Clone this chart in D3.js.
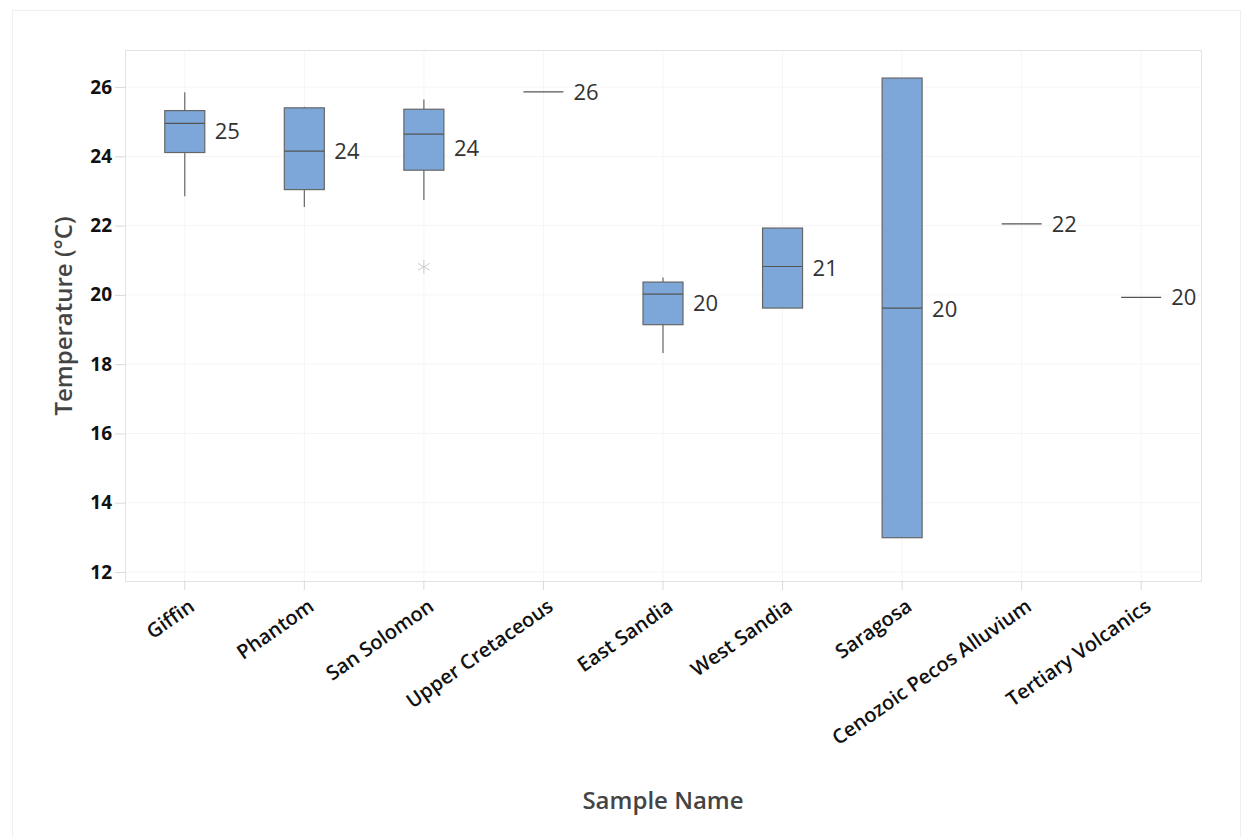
<!DOCTYPE html>
<html><head><meta charset="utf-8">
<script src="https://cdn.jsdelivr.net/npm/d3@7"></script>
<style>body{margin:0;background:#fff;} svg{display:block;}</style>
</head><body>
<svg id="chart" width="1252" height="837"></svg>
<script>
const categories = ["Giffin","Phantom","San Solomon","Upper Cretaceous","East Sandia","West Sandia","Saragosa","Cenozoic Pecos Alluvium","Tertiary Volcanics"];
const whiskerLow  = [22.85, 22.54, 22.74, 25.86, 18.32, 19.62, 12.99, 22.05, 19.93];
const q1          = [24.11, 23.04, 23.60, 25.86, 19.14, 19.62, 12.99, 22.05, 19.93];
const median      = [24.95, 24.15, 24.64, 25.86, 20.02, 20.82, 19.62, 22.05, 19.93];
const q3          = [25.32, 25.40, 25.36, 25.86, 20.37, 21.93, 26.26, 22.05, 19.93];
const whiskerHigh = [25.85, 25.43, 25.64, 25.86, 20.50, 21.93, 26.26, 22.05, 19.93];
const meanValues  = [24.73, 24.15, 24.25, 25.86, 19.75, 20.77, 19.60, 22.05, 19.93];
const outliers    = [{cat:"San Solomon", value:20.81}];
const yTicks = [12,14,16,18,20,22,24,26];

const svg = d3.select("#chart");
const m = {left:125, top:50, right:1201, bottom:581};

// outer frame
svg.append("rect").attr("x",12.5).attr("y",10.5).attr("width",1228).attr("height",840)
  .attr("fill","none").attr("stroke","#efefef");

const x = d3.scaleBand().domain(categories).range([m.left,m.right]).padding(0);
const y = d3.scaleLinear().domain([11.74,27.07]).range([m.bottom,m.top]);
const bw = 40;
const cx = c => x(c)+x.bandwidth()/2;

// gridlines
svg.append("g").selectAll("line").data(yTicks).join("line")
  .attr("x1",m.left).attr("x2",m.right).attr("y1",d=>y(d)).attr("y2",d=>y(d))
  .attr("stroke","#f5f5f5");
svg.append("g").selectAll("line").data(categories).join("line")
  .attr("x1",cx).attr("x2",cx).attr("y1",m.top).attr("y2",m.bottom)
  .attr("stroke","#f5f5f5");

// plot border
svg.append("rect").attr("x",m.left+0.5).attr("y",m.top+0.5).attr("width",m.right-m.left).attr("height",m.bottom-m.top)
  .attr("fill","none").attr("stroke","#e2e2e2");

// y axis
const yAxis = svg.append("g").attr("transform",`translate(${m.left},0)`)
  .call(d3.axisLeft(y).tickValues(yTicks).tickSize(10).tickPadding(3));
yAxis.select(".domain").remove();
yAxis.selectAll(".tick line").attr("stroke","#d9d9d9");
yAxis.selectAll(".tick text").attr("fill","#111").attr("font-family","'Open Sans', sans-serif")
  .attr("font-weight","700").attr("font-size","19px");

// x axis
const xAxis = svg.append("g").attr("transform",`translate(0,${m.bottom})`)
  .call(d3.axisBottom(x).tickSize(9).tickPadding(0));
xAxis.select(".domain").remove();
xAxis.selectAll(".tick line").attr("stroke","#d9d9d9");
xAxis.selectAll(".tick text").attr("fill","#111").attr("font-family","'Open Sans', sans-serif")
  .attr("font-weight","600").attr("font-size","20px")
  .attr("text-anchor","end").attr("dy","0")
  .attr("transform","translate(6,21) rotate(-35)");

// boxes
const data = categories.map((c,i)=>({c, lo:whiskerLow[i], q1:q1[i], med:median[i], q3:q3[i], hi:whiskerHigh[i], mean:meanValues[i]}));
const g = svg.append("g");
data.forEach(d=>{
  const X = cx(d.c);
  const gg = g.append("g");
  if (d.q3 > d.q1) {
    gg.append("line").attr("x1",X).attr("x2",X).attr("y1",y(d.hi)).attr("y2",y(d.q3)).attr("stroke","#666").attr("stroke-width",1.2);
    gg.append("line").attr("x1",X).attr("x2",X).attr("y1",y(d.q1)).attr("y2",y(d.lo)).attr("stroke","#666").attr("stroke-width",1.2);
    gg.append("rect").attr("x",X-bw/2).attr("y",y(d.q3)).attr("width",bw).attr("height",y(d.q1)-y(d.q3))
      .attr("fill","#7DA7D9").attr("stroke","#666").attr("stroke-width",1.2);
  }
  gg.append("line").attr("x1",X-bw/2).attr("x2",X+bw/2).attr("y1",y(d.med)).attr("y2",y(d.med))
    .attr("stroke","#555").attr("stroke-width",1.2);
  gg.append("text").attr("x",X+bw/2+10).attr("y",y(d.mean)).attr("dy","0.36em")
    .attr("font-family","'Open Sans', sans-serif").attr("font-size","22px").attr("fill","#333")
    .text(Math.round(d.mean));
});

// outliers
const star = d3.symbol().type(d3.symbolAsterisk).size(130);
svg.append("g").selectAll("path").data(outliers).join("path")
  .attr("transform",d=>`translate(${cx(d.cat)},${y(d.value)})`)
  .attr("d",star).attr("fill","none").attr("stroke","#cccccc").attr("stroke-width",1);

// axis titles
svg.append("text").attr("transform","translate(72,316) rotate(-90)").attr("text-anchor","middle")
  .attr("font-family","'Open Sans', sans-serif").attr("font-size","24px").attr("font-weight","600").attr("fill","#444")
  .text("Temperature (°C)");
svg.append("text").attr("x",663).attr("y",809).attr("text-anchor","middle")
  .attr("font-family","'Open Sans', sans-serif").attr("font-size","24px").attr("font-weight","600").attr("fill","#444")
  .text("Sample Name");
</script>
</body></html>
